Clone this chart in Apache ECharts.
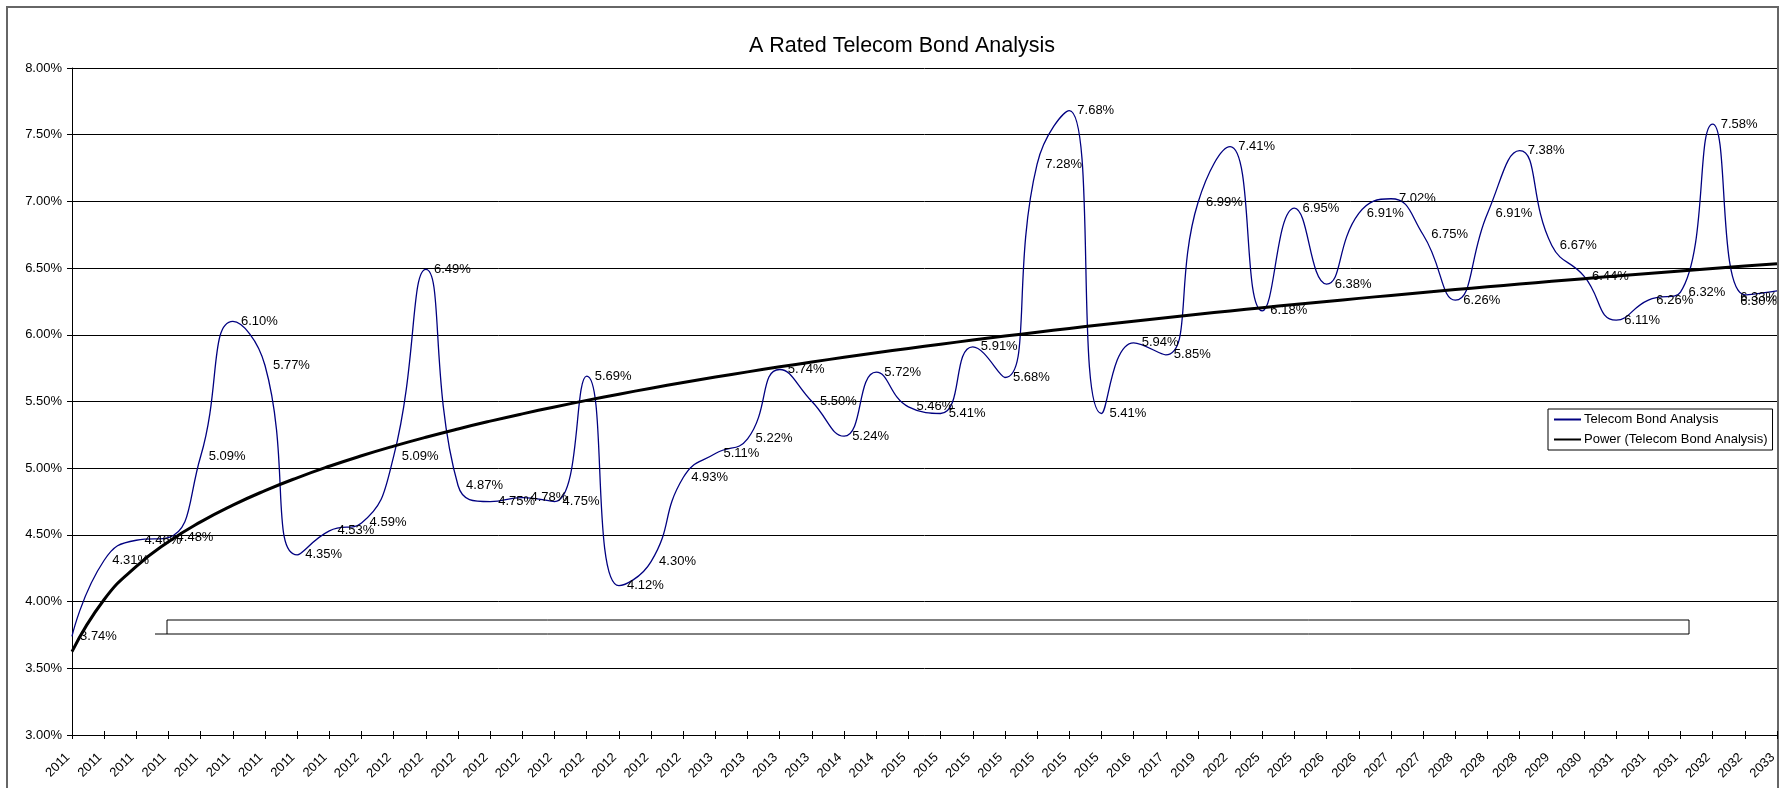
<!DOCTYPE html>
<html><head><meta charset="utf-8">
<script src="https://cdn.jsdelivr.net/npm/echarts@6/dist/echarts.min.js"></script>
<style>html,body{margin:0;padding:0;background:#fff}#c{width:1780px;height:788px}</style>
</head><body><div id="c"></div>
<script>
const categories = ['2011','2011','2011','2011','2011','2011','2011','2011','2011',
  '2012','2012','2012','2012','2012','2012','2012','2012','2012','2012','2012',
  '2013','2013','2013','2013','2014','2014',
  '2015','2015','2015','2015','2015','2015','2015',
  '2016','2017','2019','2022','2025','2025','2026','2026','2027','2027',
  '2028','2028','2028','2029','2030','2031','2031','2031','2032','2032','2033'];
const bondYield = [3.74, 4.31, 4.46, 4.48, 5.09, 6.10, 5.77, 4.35, 4.53, 4.59,
  5.09, 6.49, 4.87, 4.75, 4.78, 4.75, 5.69, 4.12, 4.30, 4.93,
  5.11, 5.22, 5.74, 5.50, 5.24, 5.72, 5.46, 5.41, 5.91, 5.68,
  7.28, 7.68, 5.41, 5.94, 5.85, 6.99, 7.41, 6.18, 6.95, 6.38,
  6.91, 7.02, 6.75, 6.26, 6.91, 7.38, 6.67, 6.44, 6.11, 6.26,
  6.32, 7.58, 6.30, 6.33];
const yTicks = {min: 3, max: 8, step: 0.5};
const seriesNames = ['Telecom Bond Analysis', 'Power (Telecom Bond Analysis)'];
const titleText = 'A Rated Telecom Bond Analysis';

// Power trendline (least squares on log-log, like Excel's power trendline)
function powerFit(vals) {
  const n = vals.length;
  let sx = 0, sy = 0, sxx = 0, sxy = 0;
  vals.forEach((v, i) => {
    const lx = Math.log(i + 1), ly = Math.log(v);
    sx += lx; sy += ly; sxx += lx * lx; sxy += lx * ly;
  });
  const b = (n * sxy - sx * sy) / (n * sxx - sx * sx);
  const a = Math.exp((sy - b * sx) / n);
  return vals.map((_, i) => a * Math.pow(i + 1, b));
}
const trend = powerFit(bondYield);

const FONT = "'Liberation Sans', Arial, sans-serif";
const chart = echarts.init(document.getElementById('c'), null, {renderer: 'canvas'});
const W = 1780;

const option = {
  animation: false,
  backgroundColor: '#fff',
  textStyle: {fontFamily: FONT, color: '#000'},
  title: {
    text: titleText, left: 749, top: 35, padding: 0,
    textStyle: {fontFamily: FONT, fontSize: 21.5, fontWeight: 'normal', color: '#000'}
  },
  legend: {
    left: 1548, top: 409, orient: 'vertical',
    padding: [4, 5, 4, 5], itemGap: 7, itemWidth: 27, itemHeight: 14,
    borderColor: '#000', borderWidth: 1, backgroundColor: '#fff',
    itemStyle: {opacity: 0},
    textStyle: {fontFamily: FONT, fontSize: 13, color: '#000', padding: [0, 0, 0, -2]},
    data: seriesNames
  },
  grid: {left: 72, right: 3, top: 68, bottom: 53, containLabel: false},
  xAxis: [{
    type: 'category', data: categories, boundaryGap: false,
    axisLine: {lineStyle: {color: '#000', width: 1}},
    axisTick: {show: true, interval: 0, length: 4, lineStyle: {color: '#000'}},
    axisLabel: {interval: 0, rotate: 45, margin: 16, padding: [0, 6, 0, 0],
      fontFamily: FONT, fontSize: 13, color: '#000'},
    splitLine: {show: false}
  }, {
    type: 'category', data: categories, boundaryGap: false, position: 'bottom', gridIndex: 0,
    axisLine: {show: false},
    axisTick: {show: true, inside: true, interval: 0, length: 4, lineStyle: {color: '#000'}},
    axisLabel: {show: false}, splitLine: {show: false}
  }],
  yAxis: {
    type: 'value', min: yTicks.min, max: yTicks.max, interval: yTicks.step,
    axisLine: {show: true, lineStyle: {color: '#000'}},
    axisTick: {show: true, length: 5, lineStyle: {color: '#000'}},
    axisLabel: {margin: 10, fontFamily: FONT, fontSize: 13, color: '#000',
      formatter: v => v.toFixed(2) + '%'},
    splitLine: {show: true, lineStyle: {color: '#000', width: 1}}
  },
  series: [{
    name: seriesNames[0], type: 'line', data: bondYield, smooth: 0.5,
    symbol: 'circle', symbolSize: 0.1, showSymbol: true, showAllSymbol: true,
    itemStyle: {color: '#000080'},
    lineStyle: {color: '#000080', width: 1.3},
    label: {show: true, position: 'right', distance: 8, fontFamily: FONT, fontSize: 13, color: '#000',
      formatter: p => p.value.toFixed(2) + '%'},
    labelLayout: function (params) {
      const r = params.labelRect;
      if (r.x + r.width > W - 3) {
        return {x: W - 3 - r.width};
      }
      return {};
    },
    emphasis: {disabled: true}, z: 2
  }, {
    name: seriesNames[1], type: 'line', data: trend, smooth: true,
    symbol: 'none', itemStyle: {color: '#000'},
    lineStyle: {color: '#000', width: 3},
    emphasis: {disabled: true}, z: 3
  }],
  graphic: [
    {type: 'rect', shape: {x: 7, y: 7, width: 1771, height: 800}, z: -1,
      style: {fill: 'none', stroke: '#666', lineWidth: 2}},
    {type: 'rect', shape: {x: 167, y: 620, width: 1522, height: 14}, z: 10,
      style: {fill: 'none', stroke: '#000', lineWidth: 1}},
    {type: 'line', shape: {x1: 155, y1: 634, x2: 167, y2: 634}, z: 10,
      style: {stroke: '#000', lineWidth: 1}}
  ]
};
chart.setOption(option);
</script>
</body></html>
